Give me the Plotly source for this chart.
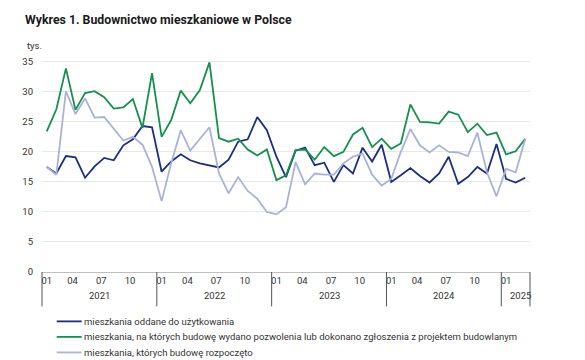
import plotly.graph_objects as go

years = ["2021", "2022", "2023", "2024", "2025"]
months_per_year = [12, 12, 12, 12, 3]
month_ticks = ["01", "04", "07", "10"]

oddane = [17.5, 16.4, 19.3, 19.1, 15.7, 17.6, 19.0, 18.6, 21.1, 22.1, 24.3, 24.1,
          16.7, 18.4, 19.6, 18.6, 18.1, 17.8, 17.4, 18.7, 21.7, 22.1, 25.8, 23.6,
          19.2, 15.8, 20.2, 20.7, 17.8, 18.2, 15.0, 17.8, 16.4, 20.7, 18.4, 21.2,
          15.0, 16.1, 17.3, 16.0, 14.9, 16.4, 19.2, 14.7, 15.8, 17.5, 16.4, 21.3,
          15.5, 14.9, 15.7]
pozwolenia = [23.4, 27.1, 33.9, 27.0, 29.8, 30.1, 29.1, 27.2, 27.4, 28.8, 24.0, 33.1,
              22.5, 25.3, 30.2, 28.1, 30.3, 34.9, 22.3, 21.7, 22.2, 20.4, 19.4, 20.4,
              15.3, 16.1, 20.3, 20.4, 18.7, 20.8, 19.3, 20.0, 22.9, 24.0, 20.8, 22.2,
              20.5, 21.4, 27.9, 25.0, 24.9, 24.7, 26.7, 26.2, 23.3, 24.7, 22.8, 23.2,
              19.6, 20.1, 22.2]
rozpoczete = [17.5, 16.2, 30.1, 26.3, 28.9, 25.7, 25.8, 23.9, 21.9, 22.5, 21.2, 17.5,
              11.8, 18.1, 23.6, 20.2, 22.2, 24.1, 16.4, 13.1, 15.8, 13.5, 12.2, 10.0,
              9.6, 10.8, 18.3, 14.6, 16.4, 16.2, 16.2, 18.1, 19.2, 19.7, 16.2, 14.4,
              15.5, 20.0, 23.8, 21.1, 19.9, 21.1, 20.0, 19.9, 19.3, 23.2, 16.6, 12.6,
              17.2, 16.6, 22.1]

names = ["mieszkania oddane do użytkowania",
         "mieszkania, na których budowę wydano pozwolenia lub dokonano zgłoszenia z projektem budowlanym",
         "mieszkania, których budowę rozpoczęto"]
colors = ["#1b2e86", "#14924b", "#a9b3d9"]

n = len(oddane)
x = list(range(n))

FONT = "Roboto"
TXT = "#333333"

OFF = 8  # page body margin
L, R, B_PX, T_PX = 42.3, 530.4, 271.7, 60.0   # window pixel coords
W, H = 585 - OFF, 360 - OFF
plot_w = R - L
plot_h = B_PX - T_PX

def py(px):
    return (B_PX - px) / plot_h

def pxp(px):
    return (px - L) / plot_w

fig = go.Figure()
for vals, name, col in zip([oddane, pozwolenia, rozpoczete], names, colors):
    fig.add_trace(go.Scatter(x=x, y=vals, mode="lines", name=name,
                             line=dict(color=col, width=1.8), showlegend=False))

tickvals, ticktext = [], []
start = 0
year_bounds = []
for yr, cnt in zip(years, months_per_year):
    year_bounds.append((start, start + cnt))
    for m in range(cnt):
        lab = "%02d" % (m + 1)
        if lab in month_ticks:
            tickvals.append(start + m - (0 if m == 0 else 0.3))
            ticktext.append(lab)
    start += cnt

shapes = []
annotations = []
bounds = sorted(set([a for a, b in year_bounds] + [b for a, b in year_bounds]))
for xv in bounds:
    xp = xv / n
    shapes.append(dict(type="line", xref="paper", yref="paper", x0=xp, x1=xp,
                       y0=0, y1=py(306), layer="above",
                       line=dict(color="#555555", width=1)))
for (a, b), yr in zip(year_bounds, years):
    annotations.append(dict(text=yr, xref="paper", yref="paper",
                            x=(a + b) / 2 / n + (0.01 if b - a < 12 else 0), y=py(295),
                            showarrow=False, font=dict(family=FONT, size=9.5, color=TXT),
                            xanchor="center", yanchor="middle"))

annotations.append(dict(text="tys.", xref="paper", yref="paper", x=pxp(25),
                        y=py(46), showarrow=False, xanchor="left", yanchor="middle",
                        font=dict(family=FONT, size=9.5, color=TXT)))
annotations.append(dict(text="<b>Wykres 1. Budownictwo mieszkaniowe w Polsce</b>",
                        xref="paper", yref="paper", x=pxp(23), y=py(20),
                        showarrow=False, xanchor="left", yanchor="middle",
                        font=dict(family=FONT, size=12.3, color="#1a1a1a")))

row_y = [321, 336.5, 352]
for name, col, ry in zip(names, colors, row_y):
    shapes.append(dict(type="line", xref="paper", yref="paper", x0=pxp(57), x1=pxp(82),
                       y0=py(ry), y1=py(ry), line=dict(color=col, width=1.8)))
    annotations.append(dict(text=name, xref="paper", yref="paper", x=pxp(82.5), y=py(ry),
                            showarrow=False, xanchor="left", yanchor="middle",
                            font=dict(family=FONT, size=9.5, color=TXT)))

fig.update_layout(
    width=W, height=H,
    margin=dict(l=L - OFF, r=W - (R - OFF), t=T_PX - OFF, b=H - (B_PX - OFF), autoexpand=False),
    paper_bgcolor="white", plot_bgcolor="white",
    showlegend=False,
    xaxis=dict(range=[-0.5, n - 0.5], tickvals=tickvals, ticktext=ticktext,
               showgrid=False, zeroline=False, showline=True, linecolor="#bfbfbf",
               linewidth=1, ticks="", tickfont=dict(family=FONT, size=9.5, color=TXT)),
    yaxis=dict(range=[0, 35.3], tickvals=[0, 5, 10, 15, 20, 25, 30, 35],
               showgrid=True, gridcolor="#e8e8e8", gridwidth=1, zeroline=False,
               showline=False, ticks="", ticklabelstandoff=8,
               tickfont=dict(family=FONT, size=9.5, color=TXT)),
    shapes=shapes, annotations=annotations,
)

fig.write_html("out.html")
